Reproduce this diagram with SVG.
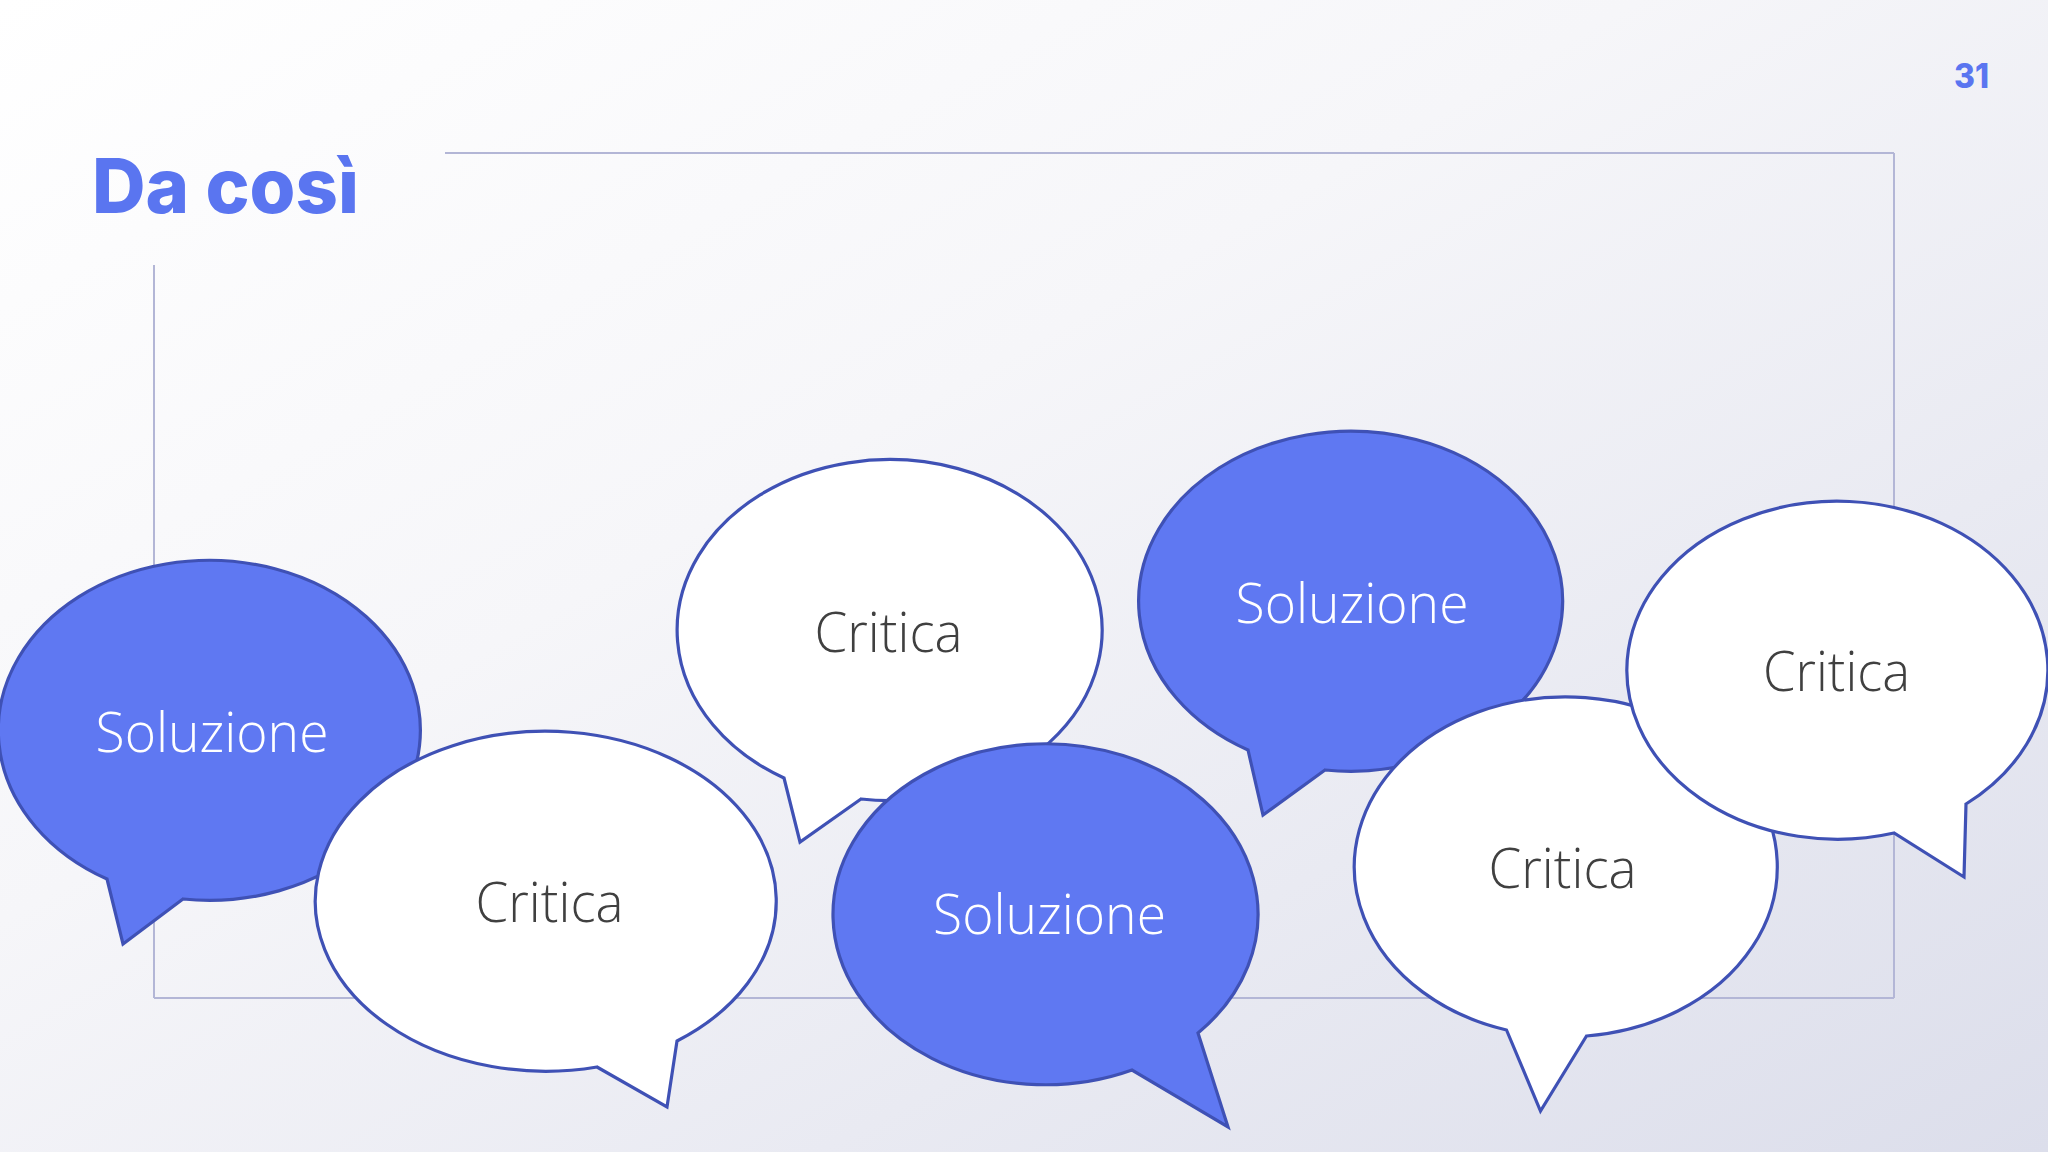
<svg xmlns="http://www.w3.org/2000/svg" width="2048" height="1152" viewBox="0 0 2048 1152">
  <defs>
    <linearGradient id="bg" x1="0" y1="0" x2="1" y2="1">
      <stop offset="0" stop-color="#ffffff"/>
      <stop offset="0.4" stop-color="#f6f6f9"/>
      <stop offset="1" stop-color="#dcdeeb"/>
    </linearGradient>
    <style>
      .frame { stroke: #b3b6d6; stroke-width: 2; fill: none; }
      .bubble { stroke: #3f51b5; stroke-width: 3.2; stroke-linejoin: miter; }
      .blue { fill: #5f78f2; }
      .white { fill: #ffffff; }
      .lbl { font-family: "Open Sans", "Noto Sans", "Liberation Sans", sans-serif; font-weight: 300; font-size: 56px; text-anchor: middle; }
      .lbl-light { fill: #ffffff; }
      .lbl-dark { fill: #404040; }
      .title { font-family: "Inter", "Lato", "Liberation Sans", sans-serif; font-weight: 800; fill: #5a75f0; }
    </style>
  </defs>

  <rect x="0" y="0" width="2048" height="1152" fill="url(#bg)"/>

  <g id="frame">
    <line class="frame" x1="445" y1="153" x2="1894" y2="153"/>
    <line class="frame" x1="1894" y1="153" x2="1894" y2="998"/>
    <line class="frame" x1="1894" y1="998" x2="154" y2="998"/>
    <line class="frame" x1="154" y1="998" x2="154" y2="265"/>
  </g>

  <g id="title">
    <text class="title" x="92" y="213" font-size="76" textLength="267" lengthAdjust="spacingAndGlyphs">Da così</text>
  </g>
  <g id="page-number">
    <text class="title" x="1954" y="88" font-size="34" textLength="35" lengthAdjust="spacingAndGlyphs">31</text>
  </g>

  <g id="bubble-soluzione-1" transform="translate(212,731)">
    <path class="bubble blue" d="M-29,168 L-89,213 L-105,148 A211,170 0 1 1 -29,168 Z"/>
    <text class="lbl lbl-light" x="0" y="21" textLength="233" lengthAdjust="spacingAndGlyphs">Soluzione</text>
  </g>

  <g id="bubble-critica-1" transform="translate(888.5,631.5)">
    <path class="bubble white" d="M-27.5,167.5 L-88.5,210.5 L-104.5,146.5 A212.5,170.5 0 1 1 -27.5,167.5 Z"/>
    <text class="lbl lbl-dark" x="0" y="20" textLength="148" lengthAdjust="spacingAndGlyphs">Critica</text>
  </g>

  <g id="bubble-soluzione-2" transform="translate(1352,602)">
    <path class="bubble blue" d="M-27,168 L-89,213 L-104,148 A212,170 0 1 1 -27,168 Z"/>
    <text class="lbl lbl-light" x="0" y="21" textLength="233" lengthAdjust="spacingAndGlyphs">Soluzione</text>
  </g>

  <g id="bubble-critica-2" transform="translate(549.5,900)">
    <path class="bubble white" d="M127.5,141 L117.5,207 L47.5,167 A230.5,170 0 1 1 127.5,141 Z"/>
    <text class="lbl lbl-dark" x="0" y="22" textLength="148" lengthAdjust="spacingAndGlyphs">Critica</text>
  </g>

  <g id="bubble-soluzione-3" transform="translate(1049.5,913.5)">
    <path class="bubble blue" d="M148.5,119.5 L178.5,213.5 L82.5,156.5 A212.5,170.5 0 1 1 148.5,119.5 Z"/>
    <text class="lbl lbl-light" x="0" y="20.5" textLength="233" lengthAdjust="spacingAndGlyphs">Soluzione</text>
  </g>

  <g id="bubble-critica-3" transform="translate(1562.5,867)">
    <path class="bubble white" d="M24,169 L-22,244 L-56,163 A211.5,170 0 1 1 24,169 Z"/>
    <text class="lbl lbl-dark" x="0" y="21" textLength="148" lengthAdjust="spacingAndGlyphs">Critica</text>
  </g>

  <g id="bubble-critica-4" transform="translate(1836.5,669)">
    <path class="bubble white" d="M129.5,135 L127.5,208 L57.5,164 A210.5,169 0 1 1 129.5,135 Z"/>
    <text class="lbl lbl-dark" x="0" y="22" textLength="147" lengthAdjust="spacingAndGlyphs">Critica</text>
  </g>
</svg>
